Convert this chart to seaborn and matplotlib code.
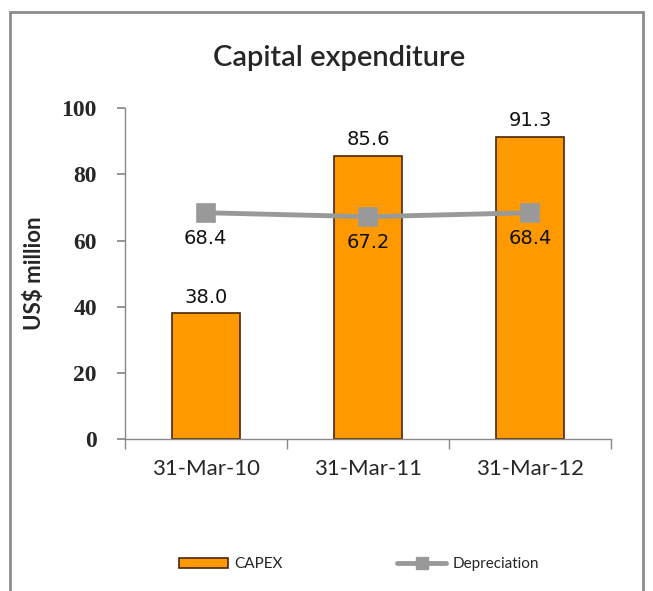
import seaborn as sns
import pandas as pd
import matplotlib.pyplot as plt
from matplotlib.patches import Rectangle, Patch
from matplotlib.lines import Line2D

dates = ["31-Mar-10", "31-Mar-11", "31-Mar-12"]
capex = [38.0, 85.6, 91.3]
depreciation = [68.4, 67.2, 68.4]

sns.set_theme(style="white")
plt.rcParams['font.family'] = ['Lato', 'DejaVu Sans']

data = pd.DataFrame({"date": dates, "CAPEX": capex, "Depreciation": depreciation})

fig = plt.figure(figsize=(6.53, 5.91), dpi=100)
ax = fig.add_axes([0.191, 0.257, 0.745, 0.560])

# outer frame
fig.patches.append(Rectangle((0.016, -0.05), 0.969, 1.03, transform=fig.transFigure,
                             fill=False, edgecolor="#8c8c8c", linewidth=2))

sns.barplot(data=data, x="date", y="CAPEX", color="#ff9900", edgecolor="#4a2508",
            linewidth=1.2, width=0.42, saturation=1, ax=ax)
sns.pointplot(data=data, x="date", y="Depreciation", color="#999999", marker="s",
              markersize=11, linewidth=3.5, ax=ax)

# data labels
for i, v in enumerate(capex):
    ax.text(i, v + 2, f"{v:.1f}", ha="center", va="bottom", fontsize=14,
            family="DejaVu Sans", color="#111111")
for i, v in enumerate(depreciation):
    ax.text(i, v - 5, f"{v:.1f}", ha="center", va="top", fontsize=14,
            family="DejaVu Sans", color="#111111")

ax.set_xlim(-0.5, 2.5)
ax.set_ylim(0, 100)
ax.set_yticks([0, 20, 40, 60, 80, 100])
ax.set_xlabel("")
ax.set_ylabel("US$ million", fontsize=16, fontweight="bold", labelpad=12)
ax.set_title("Capital expenditure", fontsize=21, fontweight="semibold", pad=30, x=0.44)

for s in ["top", "right"]:
    ax.spines[s].set_visible(False)
for s in ["left", "bottom"]:
    ax.spines[s].set_color("#888888")
    ax.spines[s].set_linewidth(1)

ax.set_xticks([-0.5, 0.5, 1.5, 2.5], minor=True)
ax.tick_params(axis="x", which="major", length=0, labelsize=16, pad=14)
ax.tick_params(axis="x", which="minor", length=7, color="#888888", direction="out", bottom=True)
ax.tick_params(axis="y", length=6, color="#888888", direction="out", left=True,
               labelsize=17, pad=14)
for lab in ax.get_yticklabels():
    lab.set_fontweight("bold")
    lab.set_family("Liberation Serif")

handles = [Patch(facecolor="#ff9900", edgecolor="#4a2508", linewidth=1.2, label="CAPEX"),
           Line2D([0], [0], color="#999999", linewidth=3.5, marker="s", markersize=8,
                  label="Depreciation")]
fig.legend(handles=handles, loc="center", bbox_to_anchor=(0.55, 0.045), ncol=2,
           frameon=False, fontsize=11, columnspacing=7.5, handlelength=3.2,
           handletextpad=0.4)

fig.savefig("out.png", dpi=100)
